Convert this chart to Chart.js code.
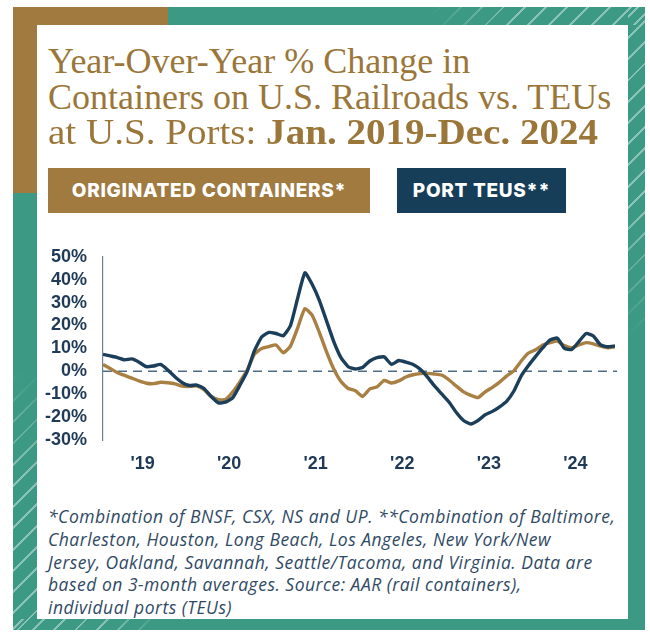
<!DOCTYPE html>
<html lang="en">
<head>
<meta charset="UTF-8">
<title>Containers on U.S. Railroads vs. TEUs at U.S. Ports</title>
<script src="https://cdn.jsdelivr.net/npm/chart.js"></script>
<style>
    html, body { margin: 0; padding: 0; background: #ffffff; }
    .pagina { position: relative; width: 650px; height: 632px; overflow: hidden; }
    .moldura { position: absolute; left: 13px; top: 7px; width: 632px; height: 623px; background: #3c9a84; }
    .ouro-topo { position: absolute; left: 13px; top: 7px; width: 155px; height: 18px; background: #a07a3f; }
    .ouro-lado { position: absolute; left: 13px; top: 7px; width: 24px; height: 186px; background: #a07a3f; }
    .hachura {
        position: absolute;
        background: repeating-linear-gradient(135deg, rgba(255,255,255,0) 0 6px, rgba(255,255,255,0.4) 6px 8px, rgba(255,255,255,0) 8px 15px);
    }
    .painel { position: absolute; left: 37px; top: 25px; width: 591px; height: 594px; background: #ffffff; }
    .titulo {
        position: absolute; left: 48px; top: 44px; width: 580px;
        font-family: "Liberation Serif", serif; font-size: 36px; line-height: 35.5px;
        color: #9b7639; white-space: nowrap;
    }
    .titulo b { font-weight: 700; }
    .titulo .larga { display: inline-block; transform: scaleX(1.085); transform-origin: 0 50%; }
    .caixa {
        position: absolute; top: 168px; height: 45px; line-height: 45px; text-align: center;
        color: #ffffff; font-family: Inter, sans-serif; font-weight: 800; font-size: 19px;
        letter-spacing: 0.7px;
    }
    .caixa.ouro { left: 48px; width: 322px; background: #a07a3f; }
    .caixa.azul { left: 397px; width: 169px; background: #173e59; }
    #grafico { position: absolute; left: 37px; top: 230px; }
    .nota {
        position: absolute; left: 48px; top: 505px; width: 580px;
        font-family: "Open Sans", sans-serif; font-style: italic; font-size: 17.5px; line-height: 22.8px;
        letter-spacing: 0.5px; color: #2f4a64; white-space: nowrap;
    }
</style>
</head>
<body>
<div class="pagina">
    <div class="moldura"></div>
    <div class="hachura" style="left:430px; top:7px; width:215px; height:18px; -webkit-mask-image: linear-gradient(to right, transparent, #000 40%);"></div>
    <div class="hachura" style="left:628px; top:7px; width:17px; height:330px; -webkit-mask-image: linear-gradient(to bottom, #000 60%, transparent);"></div>
    <div class="hachura" style="left:13px; top:370px; width:24px; height:260px; -webkit-mask-image: linear-gradient(to top, #000 60%, transparent);"></div>
    <div class="hachura" style="left:13px; top:619px; width:150px; height:11px; -webkit-mask-image: linear-gradient(to left, transparent, #000 40%);"></div>
    <div class="ouro-topo"></div>
    <div class="ouro-lado"></div>
    <div class="painel"></div>

    <div class="titulo">
        Year-Over-Year % Change in<br>
        Containers on U.S. Railroads vs. TEUs<br>
        <span class="larga">at U.S. Ports: <b>Jan. 2019-Dec. 2024</b></span>
    </div>

    <div class="caixa ouro">ORIGINATED CONTAINERS*</div>
    <div class="caixa azul">PORT TEUS**</div>

    <canvas id="grafico" width="591" height="260"></canvas>

    <div class="nota">
        *Combination of BNSF, CSX, NS and UP. **Combination of Baltimore,<br>
        Charleston, Houston, Long Beach, Los Angeles, New York/New<br>
        Jersey, Oakland, Savannah, Seattle/Tacoma, and Virginia. Data are<br>
        based on 3-month averages. Source: AAR (rail containers),<br>
        individual ports (TEUs)
    </div>
</div>

<script>
    // anos e meses (jan 2019 - dez 2024)
    var anos = ["2019", "2020", "2021", "2022", "2023", "2024"];
    var rotulosAnos = ["'19", "'20", "'21", "'22", "'23", "'24"];
    var nomesMeses = ["Jan", "Feb", "Mar", "Apr", "May", "Jun", "Jul", "Aug", "Sep", "Oct", "Nov", "Dec"];

    // % variacao ano a ano, medias de 3 meses
    var portTeus = [
        7.4, 6.7, 6.0, 5.0, 5.4, 4.0, 2.0, 2.3, 3.0, 0.5, -2.5, -5.0,
        -6.2, -6.0, -7.5, -11.0, -13.8, -13.5, -11.5, -6.0, 0.0, 9.0, 15.0, 17.0,
        16.5, 15.5, 20.0, 32.0, 43.0, 38.0, 31.0, 22.0, 13.0, 6.0, 2.0, 1.0,
        1.7, 4.5, 6.0, 6.3, 3.0, 4.7, 4.0, 3.0, 0.9, -2.5, -6.5, -10.0,
        -13.5, -18.0, -21.5, -23.0, -21.5, -19.0, -17.5, -15.5, -13.0, -8.5, -2.0, 2.5,
        6.5, 10.3, 13.7, 14.5, 10.0, 9.5, 13.0, 16.5, 15.4, 11.5, 10.7, 11.1
    ];
    var originatedContainers = [
        3.0, 1.2, -0.6, -1.8, -3.0, -4.2, -5.2, -5.4, -4.8, -5.0, -5.5, -6.5,
        -6.6, -6.4, -8.0, -11.0, -12.4, -12.3, -9.0, -4.5, 0.5, 7.5, 10.0, 10.8,
        11.5, 8.1, 11.0, 19.0, 27.4, 24.5, 17.0, 8.5, 1.0, -4.5, -7.5, -8.5,
        -11.0, -7.7, -6.8, -4.0, -5.1, -4.2, -2.5, -1.5, -1.0, -0.9, -1.2, -1.7,
        -3.8, -6.5, -9.0, -10.5, -11.5, -9.0, -7.0, -4.7, -2.0, 0.3, 4.5, 8.0,
        9.4, 11.5, 12.5, 13.2, 11.2, 10.3, 11.5, 12.5, 12.0, 11.0, 10.3, 10.7
    ];

    var meses = [];
    for (var a = 0; a < anos.length; a++) {
        for (var m = 0; m < 12; m++) {
            meses.push(nomesMeses[m] + " " + anos[a]);
        }
    }

    function pontos(valores) {
        var lista = [];
        for (var i = 0; i < valores.length; i++) {
            lista.push({ x: i, y: valores[i] });
        }
        return lista;
    }

    var corAzul = "#1b3e5b";
    var corOuro = "#a98043";
    var corTexto = "#1f3a56";

    // linha tracejada no zero
    var linhaZero = {
        id: "linhaZero",
        beforeDatasetsDraw: function (chart) {
            var ctx = chart.ctx;
            var y = chart.scales.y.getPixelForValue(0);
            ctx.save();
            ctx.strokeStyle = "#4f6c86";
            ctx.lineWidth = 1.6;
            ctx.setLineDash([9, 6]);
            ctx.beginPath();
            ctx.moveTo(chart.chartArea.left, y);
            ctx.lineTo(chart.chartArea.right + 2, y);
            ctx.stroke();
            ctx.restore();
        }
    };

    new Chart(document.getElementById("grafico"), {
        type: "line",
        data: {
            labels: meses,
            datasets: [
                {
                    label: "Port TEUs",
                    data: pontos(portTeus),
                    borderColor: corAzul,
                    borderWidth: 3.4,
                    pointRadius: 0,
                    tension: 0.15,
                    fill: false
                },
                {
                    label: "Originated Containers",
                    data: pontos(originatedContainers),
                    borderColor: corOuro,
                    borderWidth: 3.4,
                    pointRadius: 0,
                    tension: 0.15,
                    fill: false
                }
            ]
        },
        options: {
            responsive: false,
            animation: false,
            devicePixelRatio: 1,
            layout: { padding: { top: 23, right: 13, left: 0, bottom: 0 } },
            plugins: {
                legend: { display: false },
                tooltip: { enabled: false }
            },
            scales: {
                x: {
                    type: "linear",
                    min: 0,
                    max: meses.length - 1,
                    afterBuildTicks: function (scale) {
                        scale.ticks = rotulosAnos.map(function (r, k) {
                            return { value: k * 12 + 5.5 };
                        });
                    },
                    afterFit: function (scale) { scale.height = 50; },
                    grid: { display: false, drawTicks: false },
                    border: { display: false },
                    ticks: {
                        autoSkip: false,
                        maxRotation: 0,
                        padding: 13,
                        color: corTexto,
                        font: { family: "Liberation Sans", size: 18, weight: "bold" },
                        callback: function (v) {
                            return rotulosAnos[Math.round((v - 5.5) / 12)];
                        }
                    }
                },
                y: {
                    min: -30,
                    max: 50,
                    afterFit: function (scale) { scale.width = 66; },
                    grid: { display: false, drawTicks: false },
                    border: { display: true, color: "#6d8194", width: 1.2 },
                    ticks: {
                        stepSize: 10,
                        autoSkip: false,
                        padding: 16,
                        color: corTexto,
                        font: { family: "Liberation Sans", size: 18, weight: "bold" },
                        callback: function (v) { return v + "%"; }
                    }
                }
            }
        },
        plugins: [linhaZero]
    });
</script>
</body>
</html>
